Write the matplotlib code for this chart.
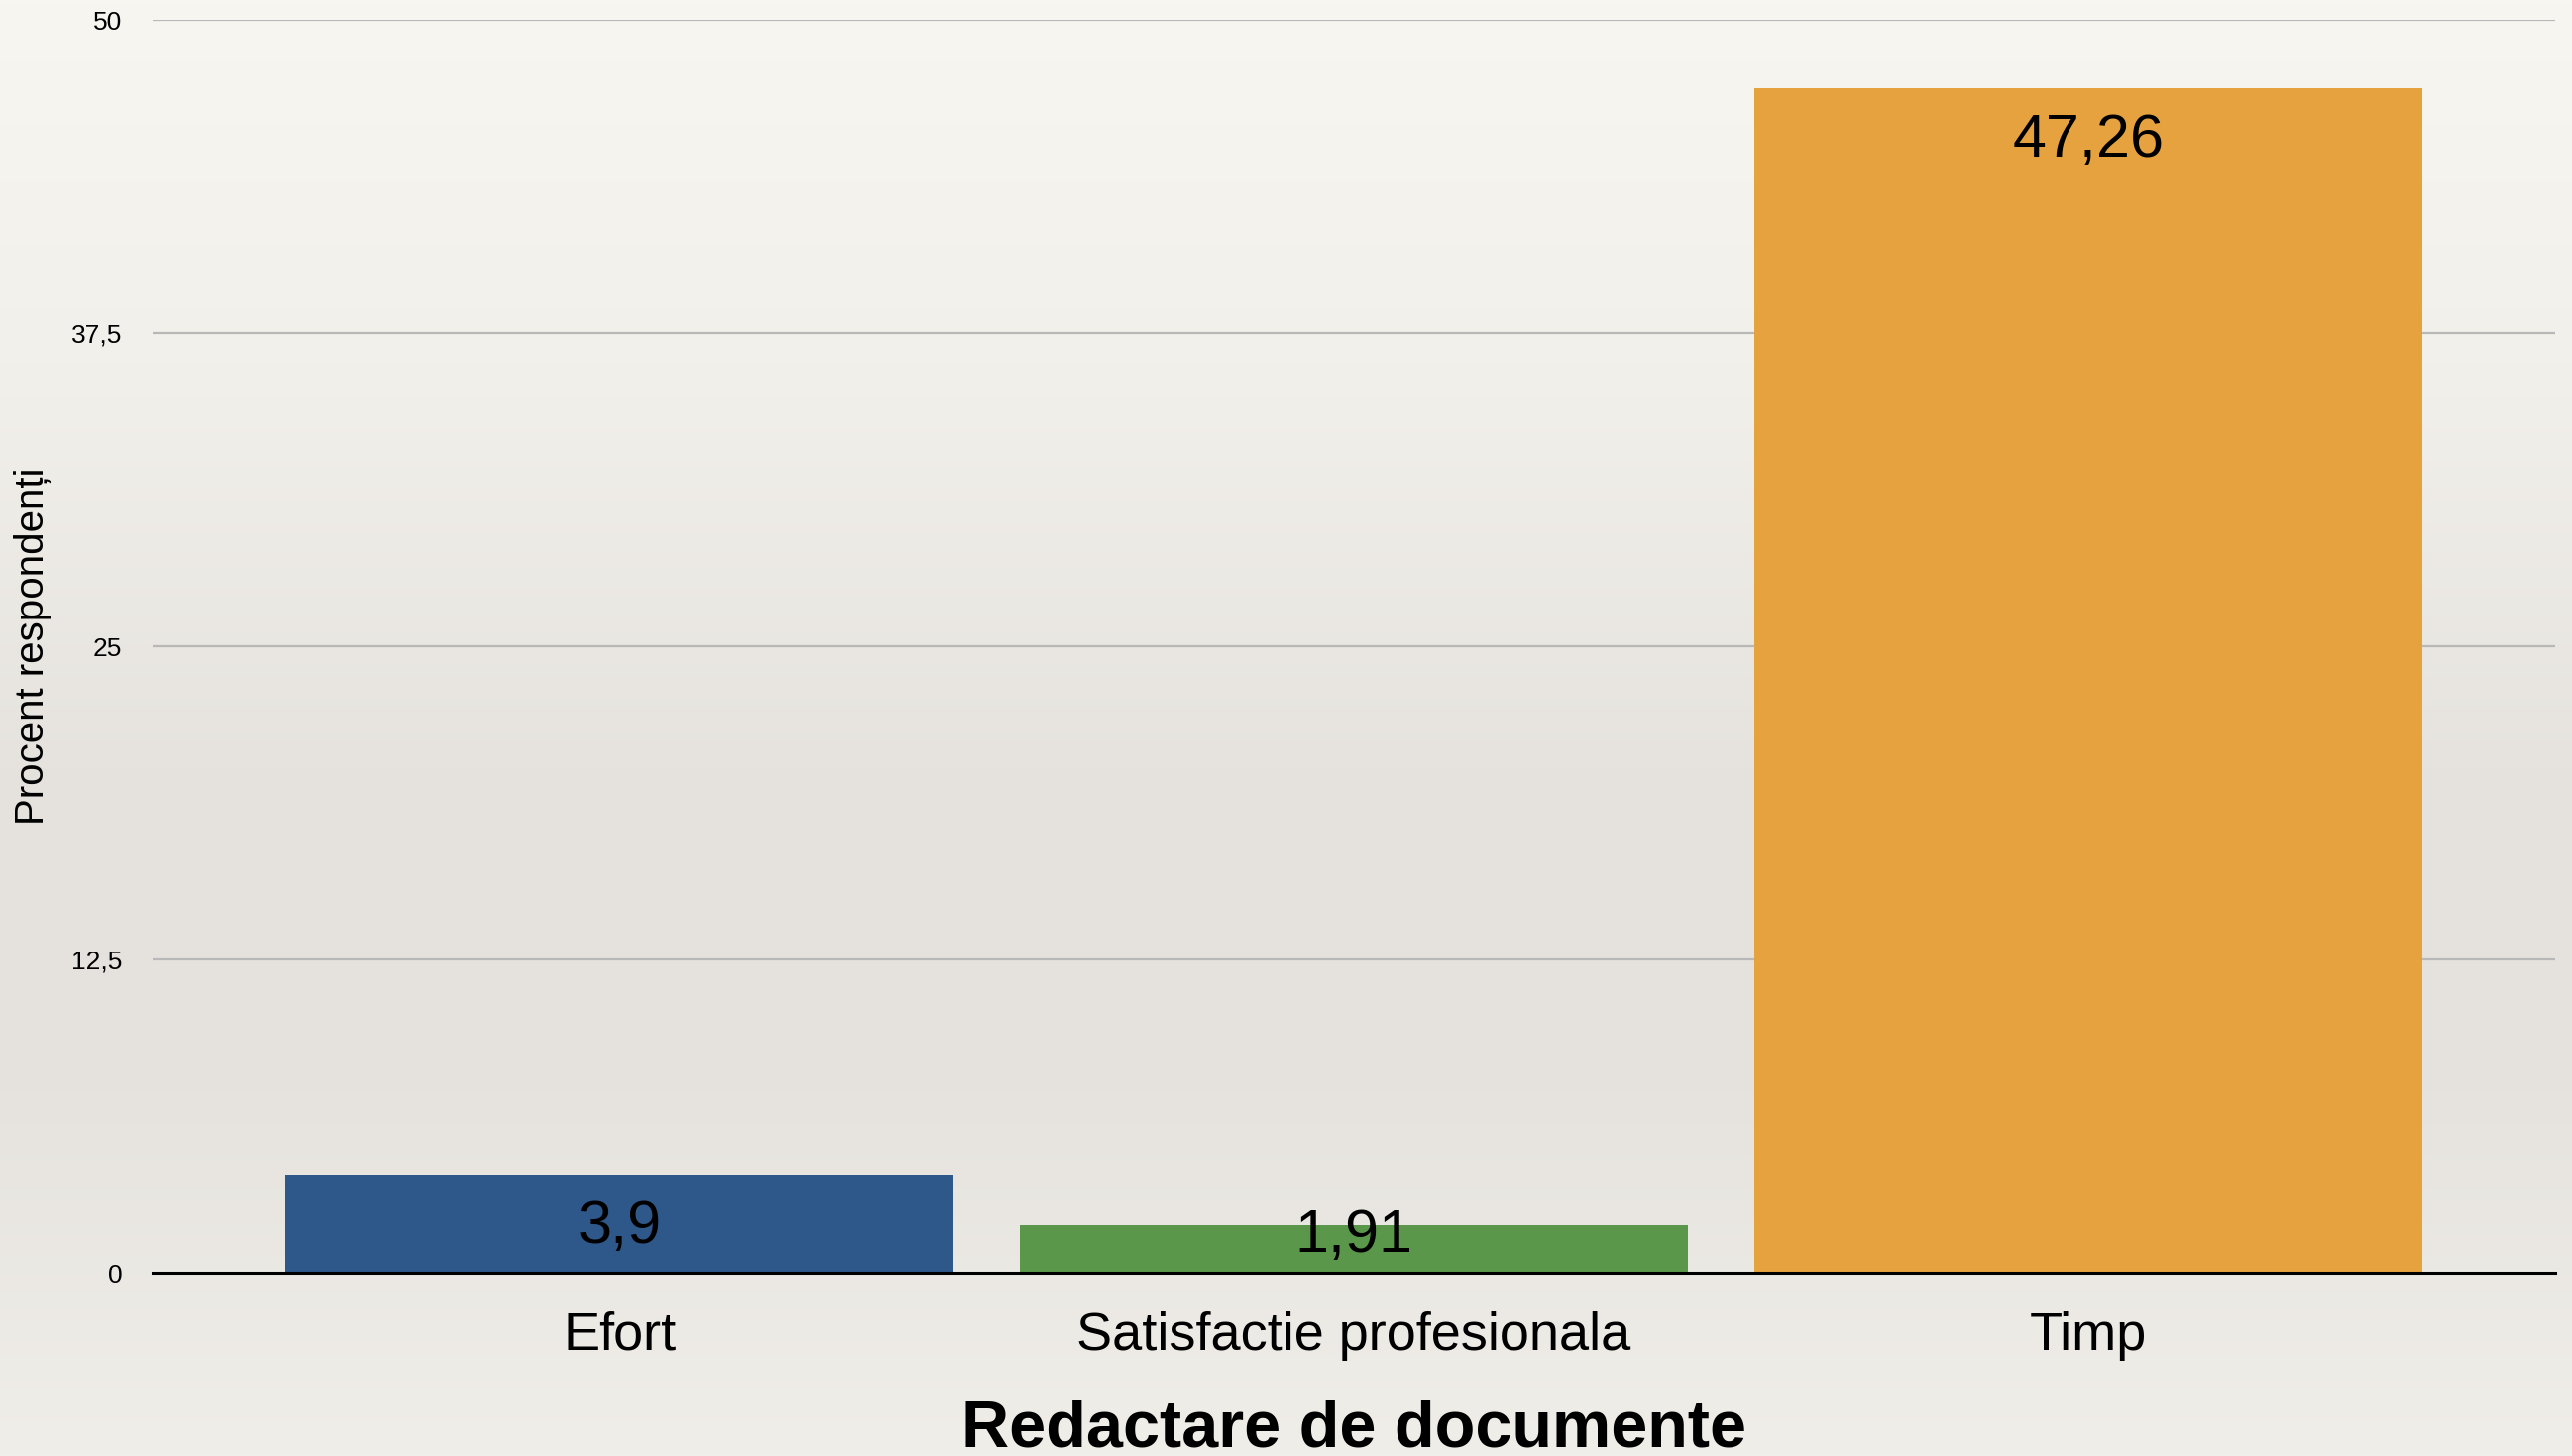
import numpy as np
import matplotlib
matplotlib.use("Agg")
import matplotlib.pyplot as plt
from matplotlib.colors import LinearSegmentedColormap

plt.rcParams['font.family'] = ['Liberation Sans', 'DejaVu Sans']

categories = ["Efort", "Satisfactie profesionala", "Timp"]
values = [3.9, 1.91, 47.26]
value_labels = ["3,9", "1,91", "47,26"]
bar_colors = ["#2e578a", "#5b974a", "#e6a23e"]
yticks = [0, 12.5, 25, 37.5, 50]
ytick_labels = ["0", "12,5", "25", "37,5", "50"]
title = "Redactare de documente"
ylabel = "Procent respondenți"

W, H = 2595, 1469
fig = plt.figure(figsize=(W / 100, H / 100), dpi=100)

# paper-like background: light at top, darker in the middle, light again at bottom
bg = fig.add_axes([0, 0, 1, 1], zorder=-10)
bg_cmap = LinearSegmentedColormap.from_list(
    "paper", [(0.0, "#f8f6f0"), (0.25, "#f2f0ea"), (0.55, "#e5e2dd"),
              (0.75, "#e6e3de"), (1.0, "#f0eee9")])
grad = np.linspace(0, 1, 256).reshape(-1, 1)
bg.imshow(grad, aspect="auto", cmap=bg_cmap, extent=[0, 1, 0, 1], origin="upper")
bg.set_axis_off()

ax = fig.add_axes([154 / W, 185 / H, 2424 / W, 1264 / H])
ax.patch.set_alpha(0)

x = np.arange(len(categories))
ax.bar(x, values, width=0.91, color=bar_colors, zorder=3)

ax.set_xlim(-0.636, 2.636)
ax.set_ylim(0, 50)
ax.set_yticks(yticks)
ax.set_yticklabels(ytick_labels, fontsize=19)
ax.set_xticks(x)
ax.set_xticklabels(categories, fontsize=39)
ax.tick_params(axis="y", length=0, pad=22)
ax.tick_params(axis="x", length=0, pad=28)

for t in yticks[1:]:
    ax.axhline(t, color="#b8b8b8", lw=1.6, zorder=1)
ax.axhline(0, color="black", lw=2.2, zorder=4, clip_on=False)

for s in ax.spines.values():
    s.set_visible(False)

# value labels sit inside the top of each bar, but never below the baseline area
for xi, v, lab in zip(x, values, value_labels):
    yb = max(v - 2.7, 0.83)
    ax.text(xi, yb, lab, ha="center", va="baseline", fontsize=44, color="black", zorder=5)

fig.text(33 / W, (185 + 632) / H, ylabel, rotation=90, ha="center", va="center", fontsize=29)
fig.text(1366 / W, 10 / H, title, ha="center", va="baseline", fontsize=48, fontweight="bold")

fig.savefig("out.png", dpi=100)
